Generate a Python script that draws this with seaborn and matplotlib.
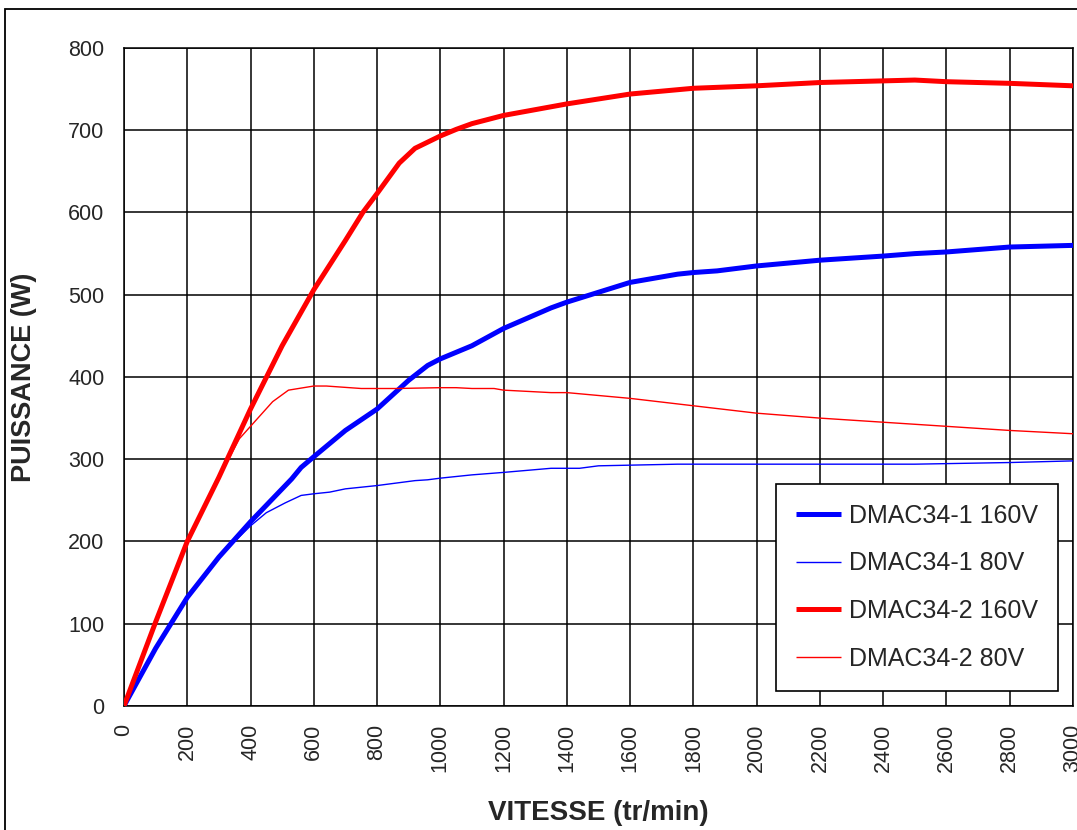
import numpy as np
import pandas as pd
import matplotlib
matplotlib.use("Agg")
import matplotlib.pyplot as plt
from matplotlib.patches import Rectangle
import seaborn as sns

# vitesse (tr/min) et puissance (W)
vit_1_160 = [0, 100, 200, 300, 400, 530, 560, 600, 700, 800, 900, 960, 1000, 1100, 1200,
             1350, 1400, 1500, 1600, 1750, 1800, 1875, 2000, 2200, 2400, 2500, 2600, 2800, 3000]
pui_1_160 = [0, 70, 132, 181, 224, 276, 290, 303, 335, 361, 396, 414, 422, 438, 459,
             484, 491, 503, 515, 525, 527, 529, 535, 542, 547, 550, 552, 558, 560]

vit_1_80 = [0, 100, 200, 300, 400, 450, 510, 560, 600, 650, 700, 800, 920, 960, 1000,
            1100, 1200, 1350, 1400, 1440, 1500, 1750, 2500, 2800, 3000]
pui_1_80 = [0, 70, 132, 181, 219, 235, 247, 256, 258, 260, 264, 268, 274, 275, 277,
            281, 284, 289, 289, 289, 292, 294, 294, 296, 298]

vit_2_160 = [0, 100, 200, 300, 400, 500, 600, 700, 755, 800, 870, 920, 1000, 1050, 1100, 1200,
             1400, 1600, 1800, 2000, 2200, 2400, 2500, 2600, 2800, 3000]
pui_2_160 = [0, 102, 200, 278, 361, 438, 506, 566, 600, 623, 660, 678, 693, 701, 708, 718,
             732, 744, 751, 754, 758, 760, 761, 759, 757, 754]

vit_2_80 = [0, 100, 200, 300, 365, 400, 470, 520, 600, 640, 750, 860, 1000, 1050, 1100,
            1170, 1200, 1350, 1400, 1600, 1800, 2000, 2200, 2400, 2600, 2800, 3000]
pui_2_80 = [0, 102, 200, 278, 325, 340, 370, 384, 389, 389, 386, 386, 387, 387, 386,
            386, 384, 381, 381, 374, 365, 356, 350, 345, 340, 335, 331]

x_ticks = list(range(0, 3001, 200))
y_ticks = list(range(0, 801, 100))

sns.set_style("white")
plt.rcParams['font.family'] = ['Liberation Sans', 'DejaVu Sans']

fig = plt.figure(figsize=(10.77, 8.30), dpi=100)
ax = fig.add_axes([0.1151, 0.1494, 0.8812, 0.7928])

series = [
    (vit_1_160, pui_1_160, "DMAC34-1 160V", "#0000ff", 3.6),
    (vit_1_80, pui_1_80, "DMAC34-1 80V", "#0000ff", 1.0),
    (vit_2_160, pui_2_160, "DMAC34-2 160V", "#ff0000", 3.6),
    (vit_2_80, pui_2_80, "DMAC34-2 80V", "#ff0000", 1.0),
]
for vx, py, lab, col, lw in series:
    df = pd.DataFrame({"vitesse": vx, "puissance": py})
    sns.lineplot(data=df, x="vitesse", y="puissance", color=col, linewidth=lw,
                 label=lab, ax=ax, sort=False, solid_capstyle='butt', zorder=3)

ax.set_xlim(0, 3000)
ax.set_ylim(0, 800)
ax.set_xticks(x_ticks)
ax.set_yticks(y_ticks)
ax.set_xticklabels([str(v) for v in x_ticks], rotation=90, fontsize=15.5)
ax.set_yticklabels([str(v) for v in y_ticks], fontsize=15.5)
ax.tick_params(axis='both', direction='out', length=6, width=1.2, color='black', pad=7)
ax.tick_params(axis='y', pad=8)

ax.grid(True, color='black', linewidth=1.1)
ax.set_axisbelow(True)
for s in ax.spines.values():
    s.set_color('black')
    s.set_linewidth(1.1)

ax.set_xlabel("VITESSE (tr/min)", fontsize=20, fontweight='bold')
ax.set_ylabel("PUISSANCE (W)", fontsize=19.5, fontweight='bold')
ax.xaxis.set_label_coords(0.5, -0.143)
ax.yaxis.set_label_coords(-0.092, 0.5)

leg = ax.legend(loc='lower right', bbox_to_anchor=(0.984, 0.0228), borderaxespad=0,
                fontsize=18, frameon=True, fancybox=False, edgecolor='black', framealpha=1,
                handlelength=1.8, handletextpad=0.3, labelspacing=0.95, borderpad=0.8)
leg.get_frame().set_linewidth(1.2)

# cadre de la zone du graphique
fig.add_artist(Rectangle((5 / 1077, -0.2), 1.5, 1.2 - 9 / 830, transform=fig.transFigure,
                         fill=False, edgecolor='black', linewidth=1.3, clip_on=False))

fig.savefig("out.png", dpi=100)
